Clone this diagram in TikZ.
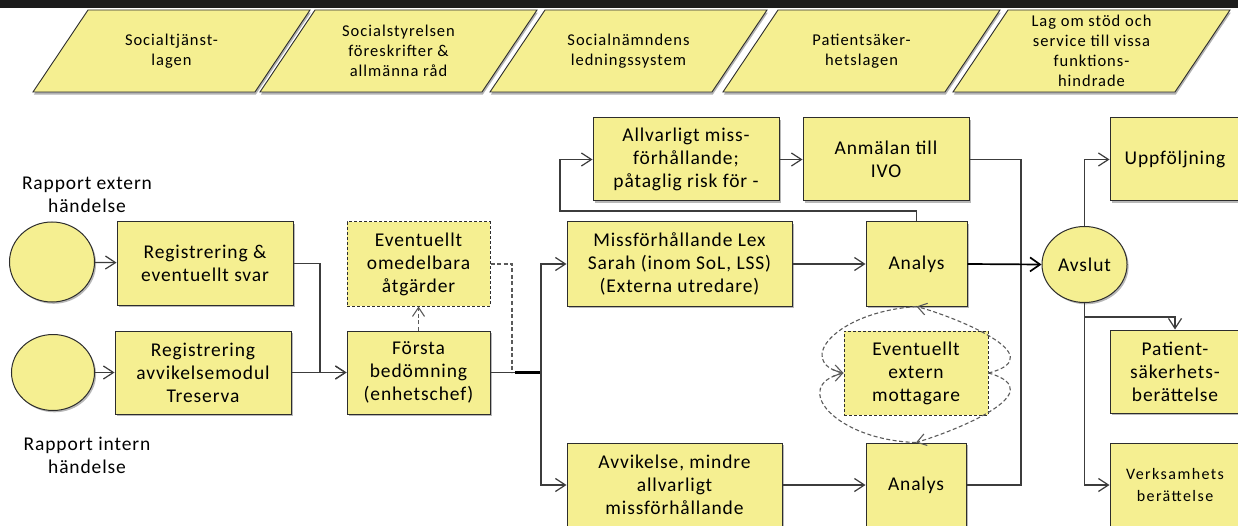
\documentclass[tikz,border=0pt]{standalone}
\usepackage{fontspec}
\setmainfont{Carlito}
\newfontfamily\boxfont{Carlito}[LetterSpace=4.5]
\newfontfamily\lawfont{Carlito}[LetterSpace=6]
\newfontfamily\widefont{Carlito}[LetterSpace=9]
\usetikzlibrary{arrows.meta,shapes.geometric,shadows}

\definecolor{boxfill}{RGB}{245,239,145}
\definecolor{edge}{RGB}{45,45,45}
\definecolor{wire}{RGB}{60,60,60}
\definecolor{dashgray}{RGB}{90,90,90}
\definecolor{topbar}{RGB}{28,28,28}

\tikzset{
  softshadow/.style={drop shadow={shadow xshift=1.6pt, shadow yshift=-1.8pt, fill=black, opacity=0.28}},
  stepbox/.style={rectangle, draw=edge, line width=1pt, fill=boxfill, align=center,
    inner sep=2pt, font=\boxfont\fontsize{19.5}{23}\selectfont, softshadow},
  optbox/.style={rectangle, draw=edge, line width=1pt, fill=boxfill, align=center,
    inner sep=2pt, font=\boxfont\fontsize{19.5}{23}\selectfont, dash pattern=on 3pt off 2pt},
  startnode/.style={ellipse, draw=edge, line width=1pt, fill=boxfill, inner sep=0pt,
    font=\boxfont\fontsize{19.5}{23}\selectfont, softshadow},
  notetext/.style={align=center, inner sep=0pt, font=\boxfont\fontsize{19.5}{23}\selectfont},
  lawbox/.style={draw=edge, line width=0.9pt, fill=boxfill,
    drop shadow={shadow xshift=0.8pt, shadow yshift=-2.6pt, fill=black, opacity=0.3}},
  lawtext/.style={align=center, inner sep=0pt, font=\lawfont\fontsize{16.5}{20}\selectfont},
  tip/.style={-{Straight Barb[length=10pt,width=13pt]}},
  wireline/.style={draw=wire, line width=1.2pt},
  flow/.style={wireline, tip},
  boldflow/.style={draw=black, line width=1.7pt, -{Straight Barb[length=10pt,width=14pt]}},
  dashwire/.style={draw=dashgray, line width=1.1pt, dash pattern=on 4pt off 2.5pt},
  dashflow/.style={dashwire, -{Straight Barb[length=9pt,width=12pt]}}
}

\begin{document}
\begin{tikzpicture}[x=1pt,y=-1pt]
\useasboundingbox (0,0) rectangle (1238,526);
\fill[white] (0,0) rectangle (1238,526);
\fill[topbar] (0,0) rectangle (1238,8);

% legal framework along the top
\foreach \tl/\txt [count=\i] in {
  88/{Socialtjänst-\\lagen},
  315/{Socialstyrelsen\\föreskrifter \&\\allmänna råd},
  545/{Socialnämndens\\ledningssystem},
  778/{Patientsäker-\\hetslagen},
  1008/{Lag om stöd och\\service till vissa\\funktions-\\hindrade}}
{
  \filldraw[lawbox] (\tl,10) -- ++(222,0) -- ++(-55,82) -- ++(-222,0) -- cycle;
  \node[lawtext] (law\i) at (\tl+83.5,51) {\txt};
}

% incoming reports
\node[startnode, minimum width=85pt, minimum height=80pt] (srcExt) at (52,262) {};
\node[startnode, minimum width=83pt, minimum height=76pt] (srcInt) at (53,372.5) {};
\node[notetext] (lblExt) at (87,195) {Rapport extern\\händelse};
\node[notetext] (lblInt) at (87,455) {Rapport intern\\händelse};

\node[stepbox, minimum width=176pt, minimum height=83pt] (regExt) at (205,263.5) {Registrering \&\\eventuellt svar};
\node[stepbox, minimum width=176pt, minimum height=83pt] (regInt) at (203,372.5) {Registrering\\avvikelsemodul\\Treserva};

% first assessment
\node[optbox, minimum width=143pt, minimum height=84pt] (immed) at (418.5,264) {Eventuellt\\omedelbara\\åtgärder};
\node[stepbox, minimum width=143pt, minimum height=83pt] (first) at (418.5,372.5) {Första\\bedömning\\(enhetschef)};

% classification and analysis
\node[stepbox, minimum width=186pt, minimum height=83pt] (serious) at (686,159.5) {Allvarligt miss-\\förhållande;\\påtaglig risk för -};
\node[stepbox, minimum width=166pt, minimum height=83pt] (ivo) at (886,159.5) {Anmälan till\\IVO};
\node[stepbox, minimum width=225pt, minimum height=84pt] (lexsarah) at (679.5,264) {Missförhållande Lex\\Sarah (inom SoL, LSS)\\(Externa utredare)};
\node[stepbox, minimum width=101pt, minimum height=84pt] (analysA) at (916.5,264) {Analys};
\node[optbox, minimum width=144pt, minimum height=84pt] (extrecv) at (916,373) {Eventuellt\\extern\\mottagare};
\node[stepbox, minimum width=215pt, minimum height=84pt] (minor) at (674.5,485) {Avvikelse, mindre\\allvarligt\\missförhållande};
\node[stepbox, minimum width=100pt, minimum height=84pt] (analysB) at (916,485) {Analys};

% closing and follow-up
\node[startnode, minimum width=85pt, minimum height=76pt] (close) at (1084.5,264.5) {Avslut};
\node[stepbox, minimum width=130pt, minimum height=83pt] (follow) at (1175,159.5) {Uppföljning};
\node[stepbox, minimum width=130pt, minimum height=83pt] (patient) at (1175,371.5) {Patient-\\säkerhets-\\berättelse};
\node[stepbox, minimum width=130pt, minimum height=84pt, font=\widefont\fontsize{16}{22}\selectfont] (annual) at (1175,485) {Verksamhets\\berättelse};

% junction points
\coordinate (jReg) at (320,372.5);
\coordinate (jDash) at (512,372.5);
\coordinate (trunk) at (541,372.5);
\coordinate (loopUp) at (560,211);
\coordinate (jRight) at (1021,264);
\coordinate (jClose) at (1084.5,317);

% connectors
\draw[flow] (srcExt) -- (regExt);
\draw[flow] (srcInt) -- (regInt);
\draw[flow] (regExt.east) -| (jReg) -- (first.west);
\draw[flow] (regInt.east) -- (first.west);
\draw[dashflow] (first.north) -- (immed.south);
\draw[dashwire] (immed.east) -| (jDash);
\draw[wireline] (first.east) -- (trunk);
\draw[draw=black, line width=2.2pt] (515,372.5) -- (trunk);
\draw[flow] (trunk) |- (lexsarah.west);
\draw[flow] (trunk) |- (minor.west);
\draw[flow] (analysA.north) |- (loopUp) |- (serious.west);
\draw[flow] (serious.east) -- (ivo.west);
\draw[flow] (lexsarah.east) -- (analysA.west);
\draw[flow] (minor.east) -- (analysB.west);
\draw[wireline] (ivo.east) -| (jRight);
\draw[wireline] (analysB.east) -| (jRight);
\draw[boldflow] (analysA.east) -- (close.west);
\draw[flow] (close.north) |- (follow.west);
\draw[flow] (close.south) |- (annual.west);
\draw[flow] (jClose) -| (patient.north);

% optional external recipient loops
\draw[dashflow] (analysA.south) .. controls (835,312) and (795,362) .. (extrecv.west);
\draw[dashflow] (analysB.north) .. controls (835,440) and (790,386) .. (extrecv.west);
\draw[dashflow] (extrecv.east) .. controls (1055,356) and (952,316) .. (analysA.south);
\draw[dashflow] (extrecv.east) .. controls (1055,392) and (952,432) .. (analysB.north);
\end{tikzpicture}
\end{document}
